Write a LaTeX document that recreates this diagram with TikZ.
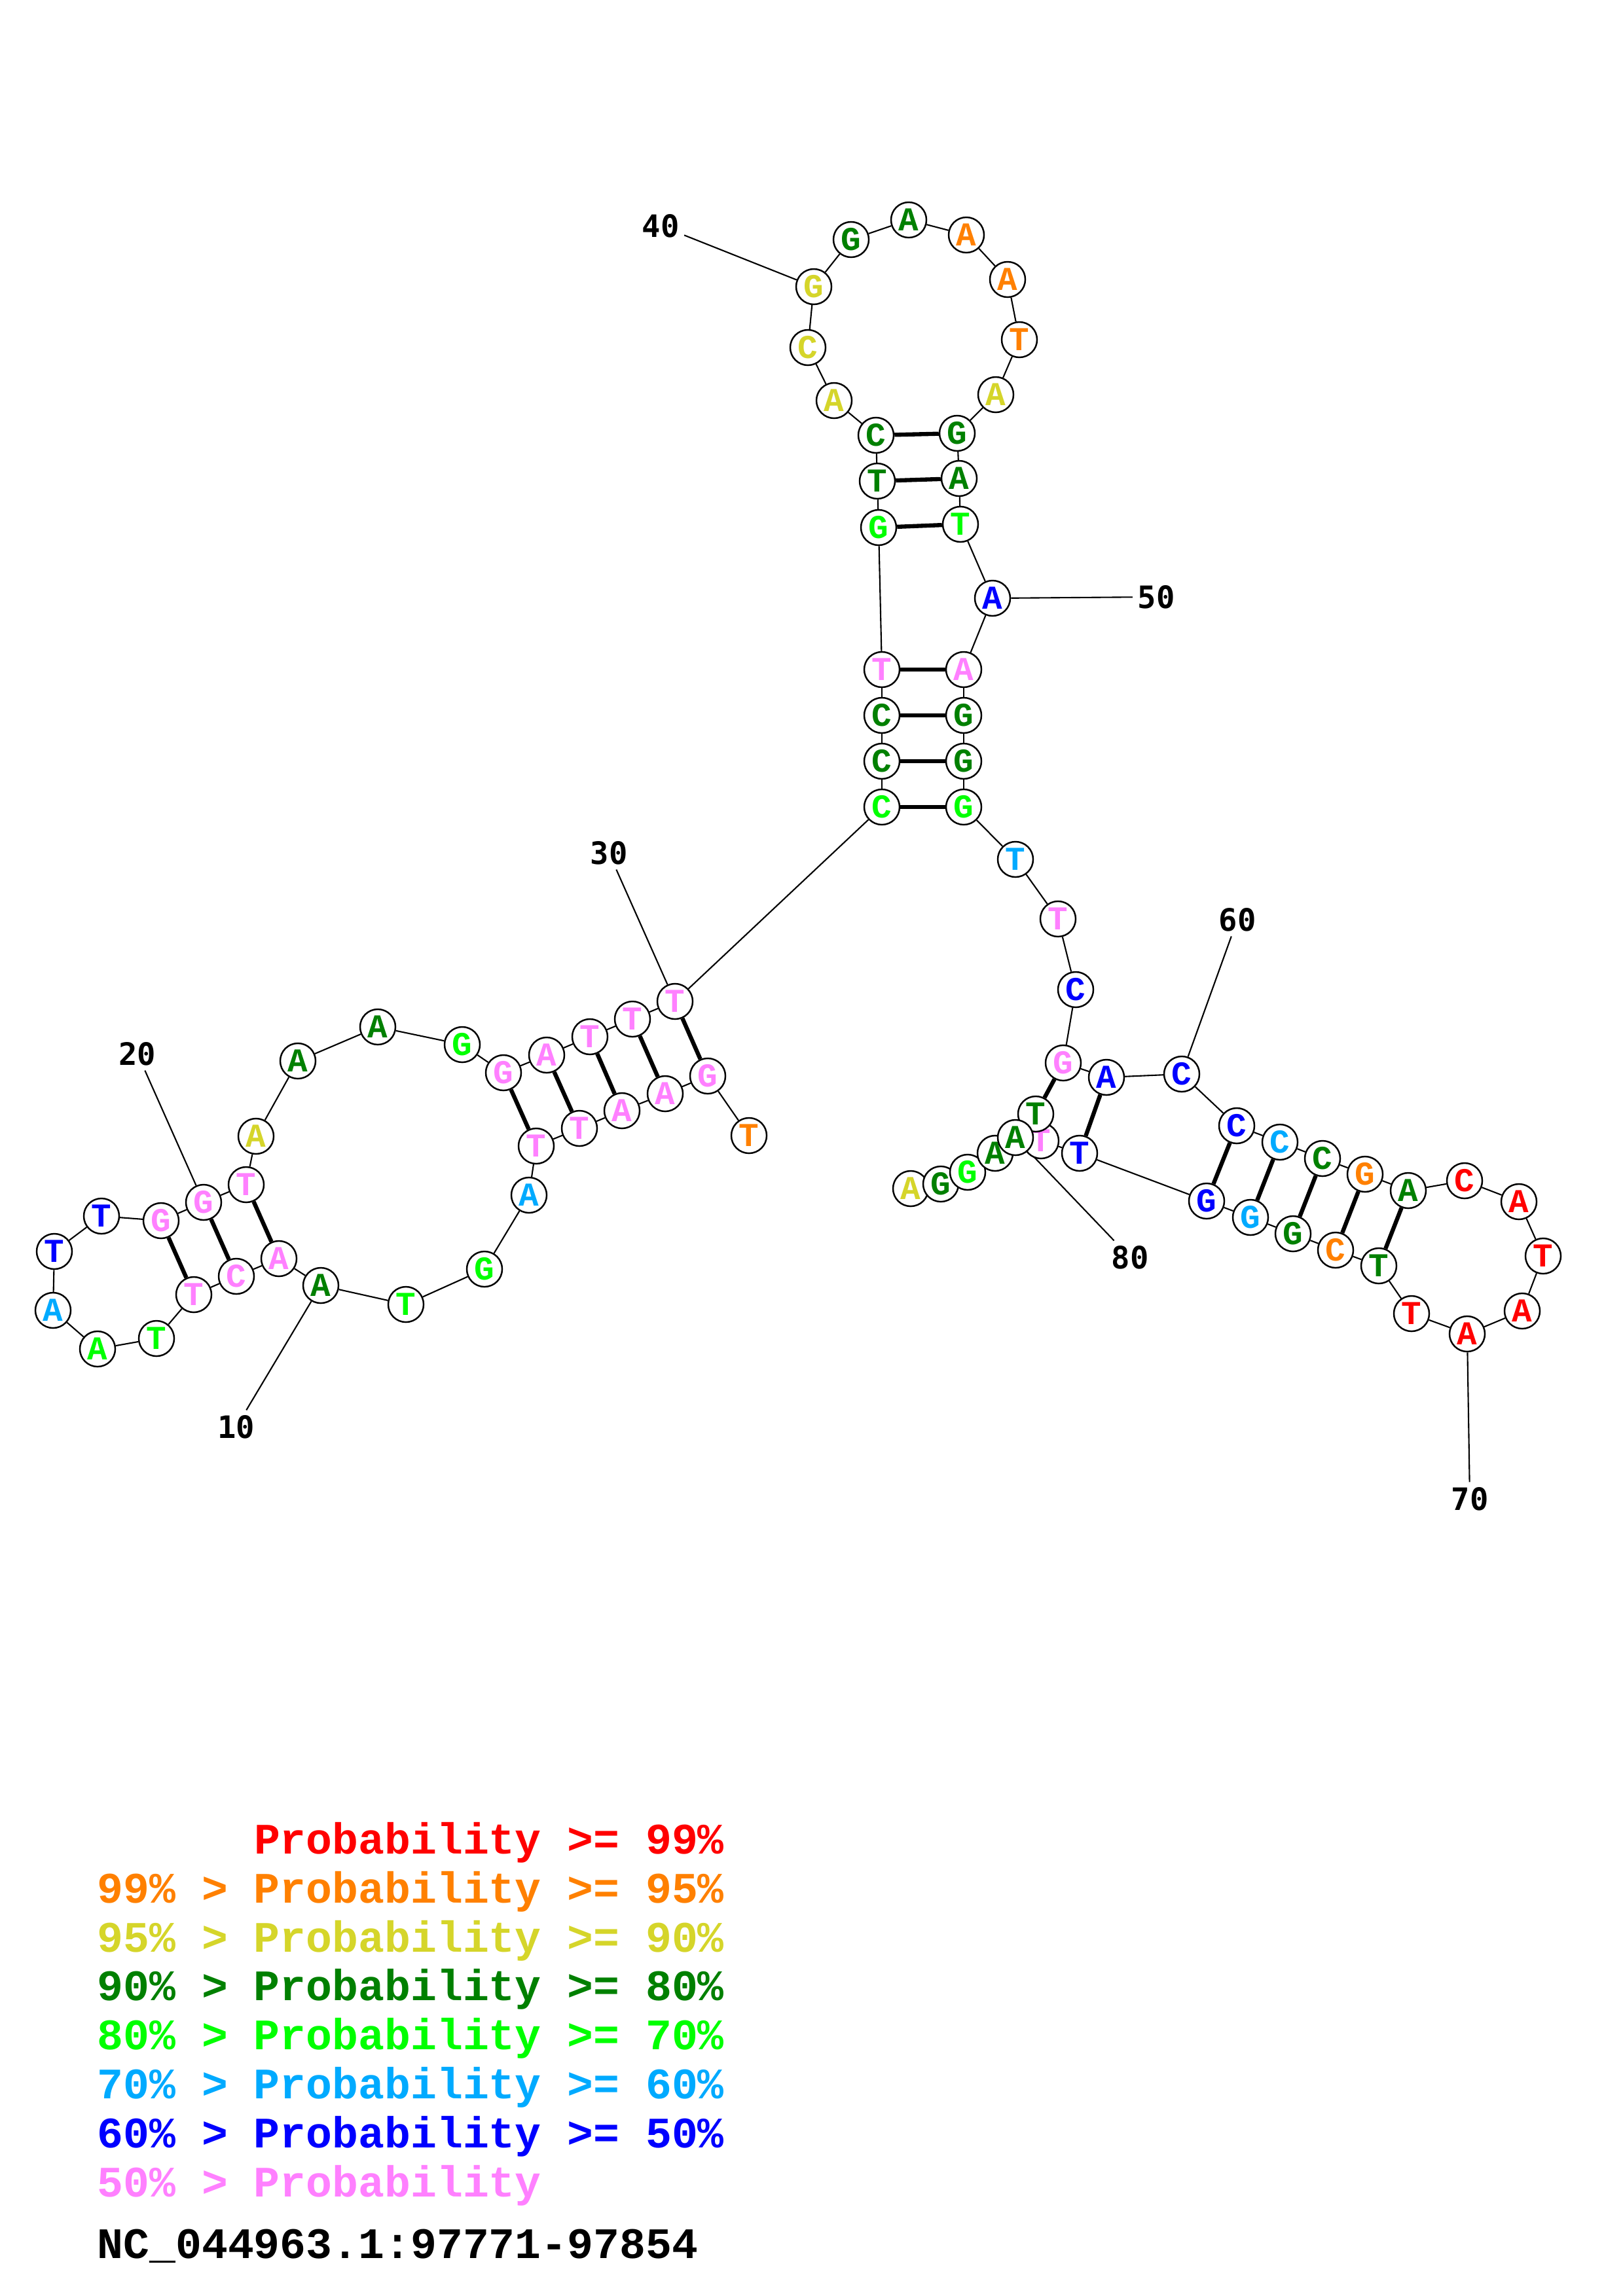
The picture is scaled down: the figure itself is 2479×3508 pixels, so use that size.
\documentclass[tikz,border=0pt]{standalone}
\usepackage{fontspec}
\setmonofont{Liberation Mono}
\newfontfamily\numfont{DejaVu Sans Mono}
\usetikzlibrary{backgrounds}
\definecolor{pr99}{RGB}{255,0,0}
\definecolor{pr95}{RGB}{255,128,0}
\definecolor{pr90}{RGB}{213,213,42}
\definecolor{pr80}{RGB}{0,128,0}
\definecolor{pr70}{RGB}{0,255,0}
\definecolor{pr60}{RGB}{0,170,255}
\definecolor{pr50}{RGB}{0,0,255}
\definecolor{prlow}{RGB}{255,128,255}

\begin{document}
\begin{tikzpicture}[x=0.01cm,y=-0.01cm,
    nt/.style={circle,draw,line width=0.7pt,fill=white,inner sep=0pt,minimum size=0.54cm,
      font=\fontsize{14.5}{14}\selectfont\ttfamily\bfseries},
    c99/.style={text=pr99},c95/.style={text=pr95},c90/.style={text=pr90},c80/.style={text=pr80},
    c70/.style={text=pr70},c60/.style={text=pr60},c50/.style={text=pr50},clow/.style={text=prlow},
    bb/.style={line width=0.6pt},
    bp/.style={line width=1.8pt},
    num/.style={inner sep=2pt,font=\fontsize{13.4}{14}\selectfont\numfont\bfseries},
    leg/.style={anchor=base west,inner sep=0pt,font=\fontsize{18.9}{20}\selectfont\ttfamily\bfseries}]
    \useasboundingbox (0,0) rectangle (2479,3508);

    \node[nt,c95] (n1) at (1144,1735) {T};
    \node[nt,clow] (n2) at (1081,1644) {G};
    \node[nt,clow] (n3) at (1016,1671) {A};
    \node[nt,clow] (n4) at (950,1697) {A};
    \node[nt,clow] (n5) at (885,1724) {T};
    \node[nt,clow] (n6) at (819,1751) {T};
    \node[nt,c60] (n7) at (808,1826) {A};
    \node[nt,c70] (n8) at (740,1939) {G};
    \node[nt,c70] (n9) at (620,1993) {T};
    \node[nt,c80] (n10) at (490,1964) {A};
    \node[nt,clow] (n11) at (426,1923) {A};
    \node[nt,clow] (n12) at (361,1950) {C};
    \node[nt,clow] (n13) at (296,1978) {T};
    \node[nt,c70] (n14) at (239,2045) {T};
    \node[nt,c70] (n15) at (149,2061) {A};
    \node[nt,c60] (n16) at (81,2002) {A};
    \node[nt,c50] (n17) at (83,1912) {T};
    \node[nt,c50] (n18) at (155,1858) {T};
    \node[nt,clow] (n19) at (246,1865) {G};
    \node[nt,clow] (n20) at (311,1837) {G};
    \node[nt,clow] (n21) at (376,1810) {T};
    \node[nt,c90] (n22) at (391,1736) {A};
    \node[nt,c80] (n23) at (455,1621) {A};
    \node[nt,c80] (n24) at (577,1569) {A};
    \node[nt,c70] (n25) at (706,1596) {G};
    \node[nt,clow] (n26) at (769,1639) {G};
    \node[nt,clow] (n27) at (835,1612) {A};
    \node[nt,clow] (n28) at (901,1584) {T};
    \node[nt,clow] (n29) at (966,1557) {T};
    \node[nt,clow] (n30) at (1031,1530) {T};
    \node[nt,c70] (n31) at (1347,1233) {C};
    \node[nt,c80] (n32) at (1347,1163) {C};
    \node[nt,c80] (n33) at (1347,1093) {C};
    \node[nt,clow] (n34) at (1347,1023) {T};
    \node[nt,c70] (n35) at (1342,806) {G};
    \node[nt,c80] (n36) at (1340,735) {T};
    \node[nt,c80] (n37) at (1338,665) {C};
    \node[nt,c90] (n38) at (1274,612) {A};
    \node[nt,c90] (n39) at (1234,531) {C};
    \node[nt,c90] (n40) at (1243,438) {G};
    \node[nt,c80] (n41) at (1300,366) {G};
    \node[nt,c80] (n42) at (1388,336) {A};
    \node[nt,c95] (n43) at (1476,359) {A};
    \node[nt,c95] (n44) at (1539,427) {A};
    \node[nt,c95] (n45) at (1557,519) {T};
    \node[nt,c90] (n46) at (1521,603) {A};
    \node[nt,c80] (n47) at (1462,662) {G};
    \node[nt,c80] (n48) at (1465,731) {A};
    \node[nt,c70] (n49) at (1467,801) {T};
    \node[nt,c50] (n50) at (1516,914) {A};
    \node[nt,clow] (n51) at (1472,1023) {A};
    \node[nt,c80] (n52) at (1472,1093) {G};
    \node[nt,c80] (n53) at (1472,1163) {G};
    \node[nt,c70] (n54) at (1472,1233) {G};
    \node[nt,c60] (n55) at (1551,1313) {T};
    \node[nt,clow] (n56) at (1616,1404) {T};
    \node[nt,c50] (n57) at (1643,1512) {C};
    \node[nt,clow] (n58) at (1624,1624) {G};
    \node[nt,c50] (n59) at (1690,1646) {A};
    \node[nt,c50] (n60) at (1805,1641) {C};
    \node[nt,c50] (n61) at (1889,1720) {C};
    \node[nt,c60] (n62) at (1955,1745) {C};
    \node[nt,c80] (n63) at (2020,1770) {C};
    \node[nt,c95] (n64) at (2085,1794) {G};
    \node[nt,c80] (n65) at (2151,1819) {A};
    \node[nt,c99] (n66) at (2237,1804) {C};
    \node[nt,c99] (n67) at (2320,1836) {A};
    \node[nt,c99] (n68) at (2357,1919) {T};
    \node[nt,c99] (n69) at (2325,2003) {A};
    \node[nt,c99] (n70) at (2241,2038) {A};
    \node[nt,c99] (n71) at (2156,2007) {T};
    \node[nt,c80] (n72) at (2106,1934) {T};
    \node[nt,c95] (n73) at (2040,1910) {C};
    \node[nt,c80] (n74) at (1975,1885) {G};
    \node[nt,c60] (n75) at (1910,1860) {G};
    \node[nt,c50] (n76) at (1843,1835) {G};
    \node[nt,c50] (n77) at (1649,1762) {T};
    \node[nt,clow] (n78) at (1590,1743) {T};
    \node[nt,c80] (n79) at (1582,1702) {T};
    \node[nt,c90] (n84) at (1391,1816) {A};
    \node[nt,c80] (n83) at (1437,1809) {G};
    \node[nt,c70] (n82) at (1478,1791) {G};
    \node[nt,c80] (n81) at (1520,1762) {A};
    \node[nt,c80] (n80) at (1551,1738) {A};

    \node[num] (l10) at (361,2180) {10};
    \node[num] (l20) at (210,1610) {20};
    \node[num] (l30) at (930,1303) {30};
    \node[num] (l40) at (1009,345) {40};
    \node[num] (l50) at (1766,912) {50};
    \node[num] (l60) at (1890,1405) {60};
    \node[num] (l70) at (2245,2290) {70};
    \node[num] (l80) at (1726,1921) {80};

    \begin{scope}[on background layer]
        \foreach \i [count=\j from 2] in {1,...,83}
            \draw[bb] (n\i) -- (n\j);
        \foreach \a/\b in {2/30,3/29,4/28,5/27,6/26,11/21,12/20,13/19,
            31/54,32/53,33/52,34/51,35/49,36/48,37/47,
            58/79,59/77,61/76,62/75,63/74,64/73,65/72}
            \draw[bp] (n\a) -- (n\b);
        \foreach \k in {10,20,...,80}
            \draw[bb] (l\k) -- (n\k);
    \end{scope}

    \node[leg,text=pr99] (k99) at (148,2832) {\phantom{99\% > }Probability >= 99\%};
    \node[leg,text=pr95] (k95) at (148,2907) {99\% > Probability >= 95\%};
    \node[leg,text=pr90] (k90) at (148,2982) {95\% > Probability >= 90\%};
    \node[leg,text=pr80] (k80) at (148,3056) {90\% > Probability >= 80\%};
    \node[leg,text=pr70] (k70) at (148,3131) {80\% > Probability >= 70\%};
    \node[leg,text=pr60] (k60) at (148,3206) {70\% > Probability >= 60\%};
    \node[leg,text=pr50] (k50) at (148,3281) {60\% > Probability >= 50\%};
    \node[leg,text=prlow] (klow) at (148,3356) {50\% > Probability};
    \node[leg] (seq) at (148,3450) {NC\_044963.1:97771-97854};
\end{tikzpicture}
\end{document}
